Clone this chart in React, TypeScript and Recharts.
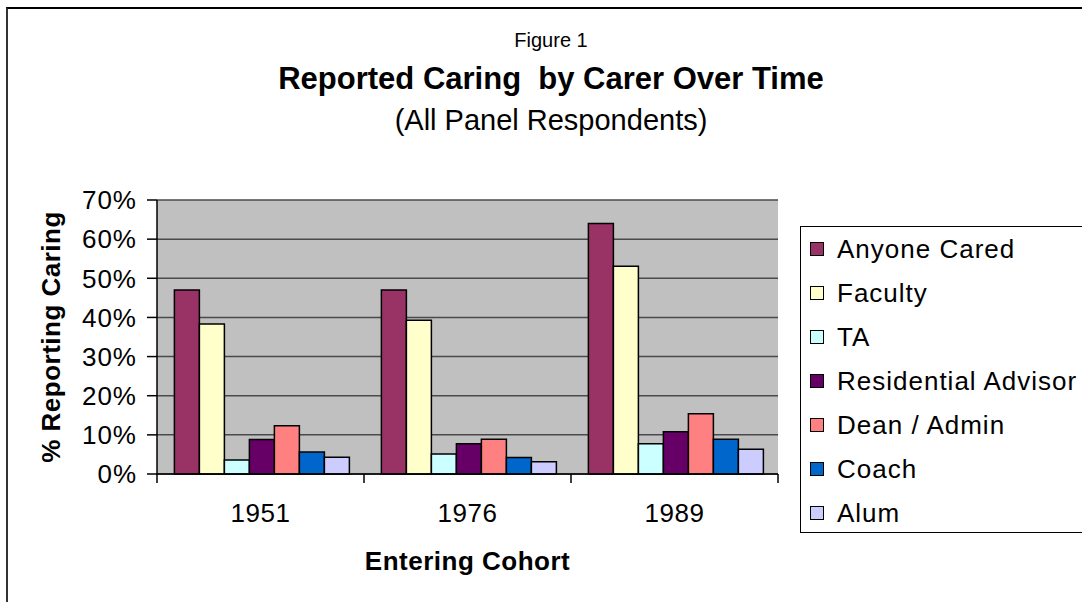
import React from 'react';
import { BarChart, Bar, XAxis, YAxis, CartesianGrid, Label } from 'recharts';

const cohorts = ['1951', '1976', '1989'];
const anyoneCared = [47, 47, 64];
const faculty = [38.3, 39.3, 53.1];
const ta = [3.6, 5.1, 7.7];
const residentialAdvisor = [8.8, 7.7, 10.8];
const deanAdmin = [12.3, 8.9, 15.4];
const coach = [5.6, 4.2, 8.9];
const alum = [4.3, 3.1, 6.3];
const yTicks = [0, 10, 20, 30, 40, 50, 60, 70];

const series = [
  { key: 'anyone', name: 'Anyone Cared', color: '#993366', values: anyoneCared },
  { key: 'faculty', name: 'Faculty', color: '#FFFFCC', values: faculty },
  { key: 'ta', name: 'TA', color: '#CCFFFF', values: ta },
  { key: 'ra', name: 'Residential Advisor', color: '#660066', values: residentialAdvisor },
  { key: 'dean', name: 'Dean / Admin', color: '#FF8080', values: deanAdmin },
  { key: 'coach', name: 'Coach', color: '#0066CC', values: coach },
  { key: 'alum', name: 'Alum', color: '#CCCCFF', values: alum },
];

const data = cohorts.map((c, i) => {
  const row: Record<string, string | number> = { cohort: c };
  series.forEach((s) => {
    row[s.key] = s.values[i];
  });
  return row;
});

const FONT = '"Liberation Sans", Arial, Helvetica, sans-serif';
const TICK_MARGIN = 30;
const TICK_LEN = 9;

const CohortTick = (props: any) => {
  const { x, y, payload, index, visibleTicksCount } = props;
  const half = payload && payload.offset ? payload.offset : 0;
  const axisY = y - TICK_MARGIN;
  const isLast = index === (visibleTicksCount ?? cohorts.length) - 1;
  return (
    <g>
      <line x1={x - half} x2={x - half} y1={axisY} y2={axisY + TICK_LEN} stroke="#000" strokeWidth={1.5} />
      {isLast && (
        <line x1={x + half} x2={x + half} y1={axisY} y2={axisY + TICK_LEN} stroke="#000" strokeWidth={1.5} />
      )}
      <text x={x} y={y} dy="0.71em" textAnchor="middle" fill="#000" fontSize={26} letterSpacing={0.5} fontFamily={FONT}>
        {payload.value}
      </text>
    </g>
  );
};

export default function App() {
  return (
    <div
      style={{
        position: 'fixed',
        left: 0,
        top: 0,
        width: 1082,
        height: 602,
        overflow: 'hidden',
        background: '#fff',
        fontFamily: FONT,
      }}
    >
      <div
        style={{
          position: 'absolute',
          left: 6,
          top: 7,
          width: 1200,
          height: 800,
          borderLeft: '2px solid #333',
          borderTop: '2px solid #000',
        }}
      />
      <div style={{ position: 'absolute', left: 51, width: 1000, top: 26, lineHeight: '28px', fontSize: 20, textAlign: 'center' }}>
        Figure 1
      </div>
      <div style={{ position: 'absolute', left: 51, width: 1000, top: 59, lineHeight: '40px', fontSize: 31, fontWeight: 'bold', textAlign: 'center' }}>
        {'Reported Caring\u00a0 by Carer Over Time'}
      </div>
      <div style={{ position: 'absolute', left: 51, width: 1000, top: 101, lineHeight: '38px', fontSize: 29, textAlign: 'center' }}>
        (All Panel Respondents)
      </div>
      <div style={{ position: 'absolute', left: 0, top: 0 }}>
        <BarChart
          width={1082}
          height={602}
          data={data}
          margin={{ top: 200, right: 304, bottom: 8, left: 0 }}
          barCategoryGap="8.4%"
          barGap={0}
          style={{ fontFamily: FONT }}
        >
          <CartesianGrid vertical={false} fill="#C0C0C0" stroke="#4a4a4a" strokeWidth={1.5} fillOpacity={1} />
          <XAxis
            dataKey="cohort"
            tickLine={false}
            tickSize={0}
            tickMargin={TICK_MARGIN}
            interval={0}
            axisLine={{ stroke: '#000', strokeWidth: 1.5 }}
            tick={<CohortTick />}
            height={120}
          >
            <Label
              value="Entering Cohort"
              position="insideTop"
              offset={78}
              style={{ fontSize: 26, fontWeight: 'bold', fill: '#000', letterSpacing: 0.5 }}
            />
          </XAxis>
          <YAxis
            domain={[0, 70]}
            ticks={yTicks}
            interval={0}
            tickFormatter={(v: number) => `${v}%`}
            tickSize={10}
            tickMargin={10}
            width={157}
            tick={{ fill: '#000', fontSize: 26, letterSpacing: 1 }}
            tickLine={{ stroke: '#000', strokeWidth: 1.5 }}
            axisLine={{ stroke: '#000', strokeWidth: 1.5 }}
          >
            <Label
              value="% Reporting Caring"
              angle={-90}
              position="center"
              dx={-28}
              style={{ fontSize: 26, fontWeight: 'bold', fill: '#000', textAnchor: 'middle', letterSpacing: 0.5 }}
            />
          </YAxis>
          <YAxis
            yAxisId="right"
            orientation="right"
            domain={[0, 70]}
            width={0}
            tick={false}
            tickLine={false}
            axisLine={{ stroke: '#808080', strokeWidth: 1.5 }}
          />
          {series.map((s) => (
            <Bar
              key={s.key}
              dataKey={s.key}
              name={s.name}
              fill={s.color}
              stroke="#000"
              strokeWidth={1.5}
              isAnimationActive={false}
            />
          ))}
        </BarChart>
      </div>
      <div
        style={{
          position: 'absolute',
          left: 800,
          top: 226,
          width: 300,
          height: 307,
          border: '1.5px solid #000',
          boxSizing: 'border-box',
          paddingTop: 0,
        }}
      >
        {series.map((s) => (
          <div key={s.key} style={{ display: 'flex', alignItems: 'center', height: 44, fontSize: 26, letterSpacing: 1 }}>
            <span
              style={{
                display: 'inline-block',
                width: 14,
                height: 14,
                marginLeft: 9,
                marginRight: 13,
                background: s.color,
                border: '1.5px solid #000',
                boxSizing: 'border-box',
              }}
            />
            <span style={{ whiteSpace: 'nowrap' }}>{s.name}</span>
          </div>
        ))}
      </div>
    </div>
  );
}
